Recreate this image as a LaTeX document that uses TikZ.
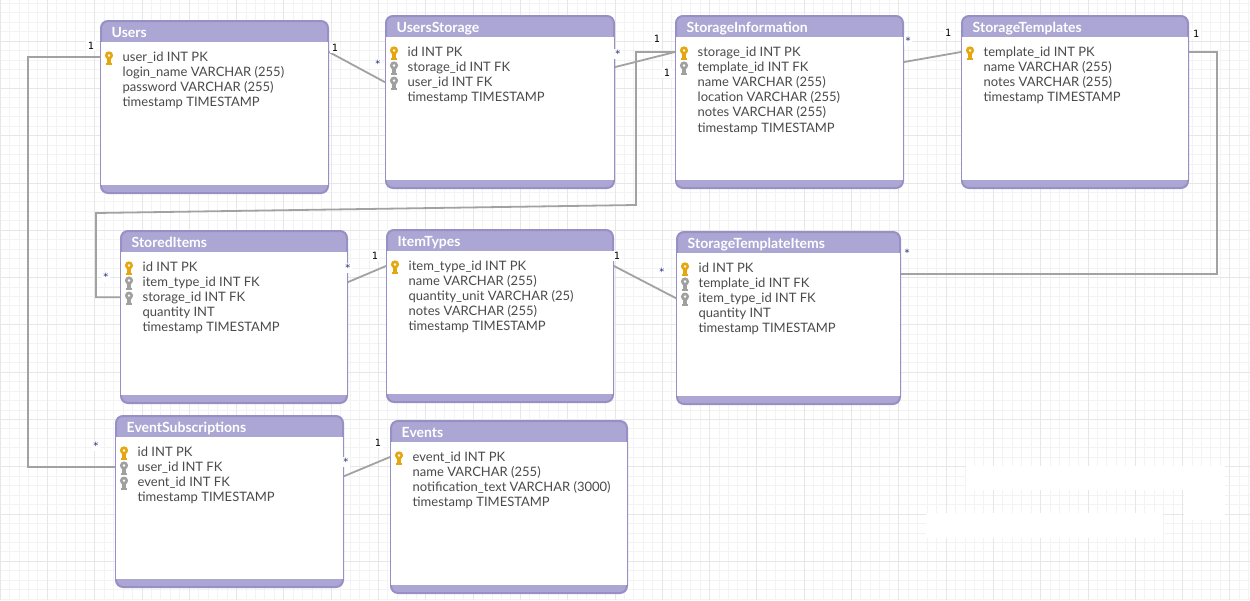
\documentclass[tikz,border=0pt]{standalone}
\usepackage{fontspec}
\setmainfont{Lato}
\newfontfamily\cardfont{DejaVu Sans Mono}
\usetikzlibrary{calc}

\definecolor{hdr}{HTML}{ABA6D3}
\definecolor{bdr}{HTML}{9890C5}
\definecolor{txt}{HTML}{4A4A4A}
\definecolor{linkgray}{HTML}{A2A2A2}
\definecolor{pkgold}{HTML}{E5A70F}
\definecolor{fkgray}{HTML}{A0A0A0}
\definecolor{gridminor}{HTML}{F3F3F3}
\definecolor{gridmajor}{HTML}{E7E7E7}
\definecolor{starblue}{HTML}{1F2F7A}

\pgfdeclarelayer{gridlayer}
\pgfdeclarelayer{linklayer}
\pgfsetlayers{gridlayer,linklayer,main}

\tikzset{
  tablebox/.style={draw=bdr, fill=hdr, line width=2pt, rounded corners=7pt,
    inner sep=0pt, rectangle},
  tabletitle/.style={font=\fontsize{14}{16}\selectfont\bfseries, text=white,
    inner sep=0pt, anchor=base west},
  rowtext/.style={font=\fontsize{13}{15}\selectfont, text=txt, anchor=west,
    inner sep=0pt, text height=9.5pt, text depth=0.5pt},
  link/.style={draw=linkgray, line width=1.8pt},
  cardone/.style={font=\cardfont\fontsize{10}{11}\selectfont, text=black,
    fill=white, inner sep=1.5pt},
  cardmany/.style={font=\cardfont\fontsize{10}{11}\selectfont, text=starblue,
    fill=white, inner sep=1pt},
  pk/.pic={
    \fill[pkgold, even odd rule] (0,-1.6) circle (4.1) (0,-1.6) circle (1.6);
    \fill[pkgold] (-1.6,1.5) rectangle (1.6,8);
    \fill[pkgold] (-2.6,5.6) rectangle (2.6,8);
  },
  fk/.pic={
    \fill[fkgray, even odd rule] (0,-1.6) circle (4.1) (0,-1.6) circle (1.6);
    \fill[fkgray] (-1.6,1.5) rectangle (1.6,8);
    \fill[fkgray] (-2.6,5.6) rectangle (2.6,8);
  },
  no/.pic={},
}

% table frame: name, left, top, width, height, title
\newcommand\ertable[6]{%
  \node[tablebox, minimum width=#4pt, minimum height=#5pt, anchor=north west]
    (#1) at (#2,#3) {};
  \fill[white] ([xshift=1pt,yshift=-22pt]#1.north west)
    rectangle ([xshift=-1pt,yshift=9pt]#1.south east);
  \node[tabletitle] (#1-title) at ([xshift=11.5pt,yshift=-17pt]#1.north west) {#6};
}
% one column row: table, index, key kind (pk/fk/no), text
\newcommand\erow[4]{%
  \node[rowtext] (#1-#2) at ([xshift=22.5pt,yshift={-37pt-15.1pt*(#2-1)}]#1.north west) {#4};
  \pic at ([xshift=9pt,yshift={-37pt-15.1pt*(#2-1)}]#1.north west) {#3};
}

\begin{document}
\begin{tikzpicture}[x=1pt, y=-1pt]
\useasboundingbox (0,0) rectangle (1250,600);

% background grid
\begin{pgfonlayer}{gridlayer}
  \fill[white] (0,0) rectangle (1250,600);
  \foreach \i in {0,...,132} \draw[gridminor, line width=0.8pt] (\i*9.46,0) -- (\i*9.46,600);
  \foreach \j in {-1,...,64} \draw[gridminor, line width=0.8pt] (0,{3.16+\j*9.46}) -- (1250,{3.16+\j*9.46});
  \foreach \i in {0,...,26} \draw[gridmajor, line width=0.8pt] (\i*47.3,0) -- (\i*47.3,600);
  \foreach \j in {-1,...,12} \draw[gridmajor, line width=0.8pt] (0,{41+\j*47.3}) -- (1250,{41+\j*47.3});
  % blank patches on the canvas
  \fill[white] (966,466) rectangle (1225,490);
  \fill[white] (1184,466) rectangle (1225,520);
  \fill[white] (926,513) rectangle (1163,538);
\end{pgfonlayer}

% tables
\ertable{users}{100}{20}{227}{172}{Users}
\erow{users}{1}{pk}{user\_id INT PK}
\erow{users}{2}{no}{login\_name VARCHAR (255)}
\erow{users}{3}{no}{password VARCHAR (255)}
\erow{users}{4}{no}{timestamp TIMESTAMP}

\ertable{ustor}{385}{15}{228}{172}{UsersStorage}
\erow{ustor}{1}{pk}{id INT PK}
\erow{ustor}{2}{fk}{storage\_id INT FK}
\erow{ustor}{3}{fk}{user\_id INT FK}
\erow{ustor}{4}{no}{timestamp TIMESTAMP}

\ertable{sinfo}{675}{15}{227}{172}{StorageInformation}
\erow{sinfo}{1}{pk}{storage\_id INT PK}
\erow{sinfo}{2}{fk}{template\_id INT FK}
\erow{sinfo}{3}{no}{name VARCHAR (255)}
\erow{sinfo}{4}{no}{location VARCHAR (255)}
\erow{sinfo}{5}{no}{notes VARCHAR (255)}
\erow{sinfo}{6}{no}{timestamp TIMESTAMP}

\ertable{stemp}{961}{15}{226}{172}{StorageTemplates}
\erow{stemp}{1}{pk}{template\_id INT PK}
\erow{stemp}{2}{no}{name VARCHAR (255)}
\erow{stemp}{3}{no}{notes VARCHAR (255)}
\erow{stemp}{4}{no}{timestamp TIMESTAMP}

\ertable{stored}{120}{230}{226}{172}{StoredItems}
\erow{stored}{1}{pk}{id INT PK}
\erow{stored}{2}{fk}{item\_type\_id INT FK}
\erow{stored}{3}{fk}{storage\_id INT FK}
\erow{stored}{4}{no}{quantity INT}
\erow{stored}{5}{no}{timestamp TIMESTAMP}

\ertable{itype}{386}{229}{226}{172}{ItemTypes}
\erow{itype}{1}{pk}{item\_type\_id INT PK}
\erow{itype}{2}{no}{name VARCHAR (255)}
\erow{itype}{3}{no}{quantity\_unit VARCHAR (25)}
\erow{itype}{4}{no}{notes VARCHAR (255)}
\erow{itype}{5}{no}{timestamp TIMESTAMP}

\ertable{sti}{676}{231}{223}{172}{StorageTemplateItems}
\erow{sti}{1}{pk}{id INT PK}
\erow{sti}{2}{fk}{template\_id INT FK}
\erow{sti}{3}{fk}{item\_type\_id INT FK}
\erow{sti}{4}{no}{quantity INT}
\erow{sti}{5}{no}{timestamp TIMESTAMP}

\ertable{evsub}{115}{415}{227}{171}{EventSubscriptions}
\erow{evsub}{1}{pk}{id INT PK}
\erow{evsub}{2}{fk}{user\_id INT FK}
\erow{evsub}{3}{fk}{event\_id INT FK}
\erow{evsub}{4}{no}{timestamp TIMESTAMP}

\ertable{events}{390}{420}{236}{172}{Events}
\erow{events}{1}{pk}{event\_id INT PK}
\erow{events}{2}{no}{name VARCHAR (255)}
\erow{events}{3}{no}{notification\_text VARCHAR (3000)}
\erow{events}{4}{no}{timestamp TIMESTAMP}

% relationships
\coordinate (bendUE) at (28,260);
\coordinate (routeA) at (636,205);
\coordinate (routeB) at (96,213);
\coordinate (bendST) at (1217,150);
\begin{pgfonlayer}{linklayer}
  \draw[link] (users.west |- users-1) -| (bendUE) |- (evsub.west |- evsub-2);
  \draw[link] ($(users.east |- users-1)+(0,-5)$) -- (ustor.west |- ustor-3);
  \draw[link] (ustor.east |- ustor-2) -- (sinfo.west |- sinfo-1);
  \draw[link] (sinfo.west |- sinfo-1) -| (routeA) -- (routeB) |- (stored.west |- stored-3);
  \draw[link] ($(sinfo.east |- sinfo-1)+(0,10)$) -- (stemp.west |- stemp-1);
  \draw[link] (stemp.east |- stemp-1) -| (bendST) |- ($(sti.east |- sti-1)+(0,6)$);
  \draw[link] (stored.east |- stored-2) -- (itype.west |- itype-1);
  \draw[link] (itype.east |- itype-1) -- (sti.west |- sti-3);
  \draw[link] ($(evsub.east |- evsub-3)+(0,-6)$) -- (events.west |- events-1);
\end{pgfonlayer}

% cardinalities
\node[cardone]  (c1)  at (91,46)   {1};
\node[cardmany] (c2)  at (96,446)  {*};
\node[cardone]  (c3)  at (335,48)  {1};
\node[cardmany] (c4)  at (378,64)  {*};
\node[cardmany] (c5)  at (618,54)  {*};
\node[cardone]  (c6)  at (657,39)  {1};
\node[cardone]  (c7)  at (667,73)  {1};
\node[cardmany] (c8)  at (908,41)  {*};
\node[cardone]  (c9)  at (948,33)  {1};
\node[cardone]  (c10) at (1196,34) {1};
\node[cardmany] (c11) at (907,253) {*};
\node[cardmany] (c12) at (106,277) {*};
\node[cardmany] (c13) at (348,268) {*};
\node[cardone]  (c14) at (375,256) {1};
\node[cardone]  (c15) at (617,256) {1};
\node[cardmany] (c16) at (662,272) {*};
\node[cardmany] (c17) at (346,462) {*};
\node[cardone]  (c18) at (378,443) {1};
\end{tikzpicture}
\end{document}
